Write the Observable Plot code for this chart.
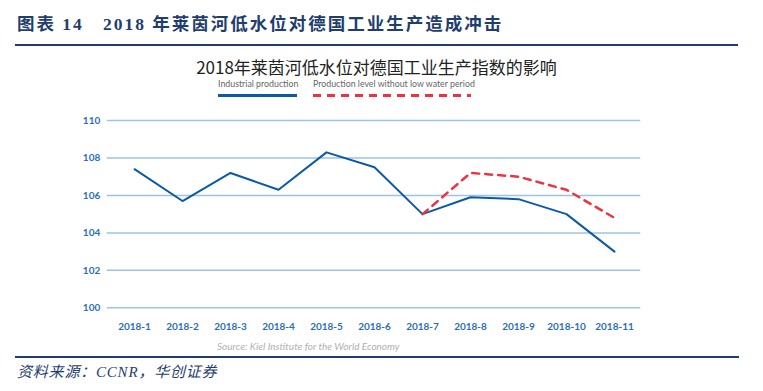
<!DOCTYPE html>
<html><head><meta charset="utf-8">
<script src="https://cdn.jsdelivr.net/npm/d3@7"></script>
<script src="https://cdn.jsdelivr.net/npm/@observablehq/plot@0.6"></script>
<style>
body{margin:0;background:#fff;width:763px;height:391px;position:relative;overflow:hidden;font-family:Lato,"Noto Sans CJK SC",sans-serif;}
.abs{position:absolute;white-space:nowrap;line-height:1;}
#header{left:17px;top:16px;font-family:"Liberation Serif","Noto Sans CJK SC",serif;font-weight:bold;font-size:17.5px;color:#1F3E6E;letter-spacing:2px;}
#topline{left:15px;top:44px;width:723px;height:2px;background:#1F3E6E;}
#ctitle{left:0;width:753px;text-align:center;top:58px;font-family:"Noto Sans CJK SC",sans-serif;font-size:17px;color:#222;}
#chart{left:0;top:100px;}
#source{left:217px;top:341px;font-size:10px;font-style:italic;color:#b0b0b0;}
#botline{left:15px;top:356px;width:724px;height:1.5px;background:#1F3E6E;}
#footer{left:17px;top:365px;font-family:"Liberation Serif","Noto Sans CJK SC",serif;font-style:italic;font-size:15px;color:#1F3E6E;letter-spacing:0.8px;}
.leg{font-size:8.8px;color:#666;}
</style></head>
<body>
<div id="header" class="abs">图表 14&nbsp;&nbsp;&nbsp;2018 年莱茵河低水位对德国工业生产造成冲击</div>
<div id="topline" class="abs"></div>
<div id="ctitle" class="abs">2018年莱茵河低水位对德国工业生产指数的影响</div>
<div class="abs leg" style="left:218px;top:80px;">Industrial production</div>
<div class="abs" style="left:218px;top:94px;width:79px;height:3px;background:#0B5AA6;"></div>
<div class="abs leg" style="left:313px;top:80px;">Production level without low water period</div>
<div class="abs" style="left:313px;top:94px;width:158px;height:3px;background:repeating-linear-gradient(90deg,#EE3340 0 8px,transparent 8px 14px);"></div>
<div id="chart" class="abs"></div>
<div id="source" class="abs">Source: Kiel Institute for the World Economy</div>
<div id="botline" class="abs"></div>
<div id="footer" class="abs">资料来源：CCNR，华创证券</div>
<script>
const months = ["2018-1","2018-2","2018-3","2018-4","2018-5","2018-6","2018-7","2018-8","2018-9","2018-10","2018-11"];
const industrial = [107.4,105.7,107.2,106.3,108.3,107.5,105.0,105.9,105.8,105.0,103.0];
const cfMonths = ["2018-7","2018-8","2018-9","2018-10","2018-11"];
const counterfactual = [105.0,107.2,107.0,106.3,104.8];
const yTicks = [100,102,104,106,108,110];

const ind = months.map((m,i)=>({m, v:industrial[i]}));
const cf = cfMonths.map((m,i)=>({m, v:counterfactual[i]}));

const plot = Plot.plot({
  width:763, height:240,
  marginLeft:106.75, marginRight:122.75, marginTop:20, marginBottom:32.7,
  style:{fontFamily:"Lato, sans-serif", fontWeight:"bold", fontSize:"10px", color:"#2A6EBB", background:"transparent"},
  x:{type:"point", domain:months, padding:0.5, label:null},
  y:{domain:[100,110], label:null},
  marks:[
    Plot.ruleY(yTicks,{stroke:"#9DC3E6", strokeWidth:1.5}),
    Plot.axisY({ticks:yTicks, tickSize:0, tickPadding:7, label:null, fill:"#2A6EBB"}),
    Plot.axisX({tickSize:0, tickPadding:15, label:null, fill:"#2A6EBB"}),
    Plot.line(ind,{x:"m", y:"v", stroke:"#0B5AA6", strokeWidth:2}),
    Plot.line(cf,{x:"m", y:"v", stroke:"#EE3340", strokeWidth:2.5, strokeDasharray:"7,6"})
  ]
});
document.getElementById("chart").appendChild(plot);
</script>
</body></html>
